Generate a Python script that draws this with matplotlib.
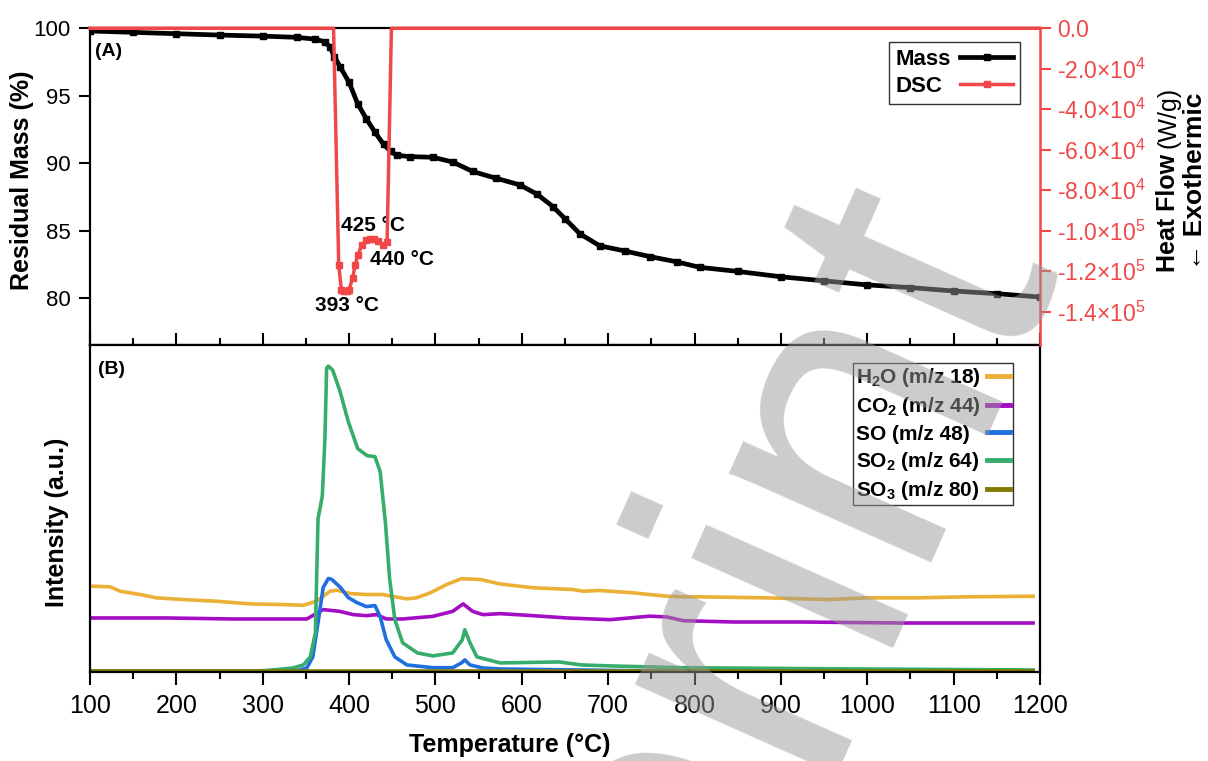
import matplotlib.pyplot as plt
from matplotlib.ticker import MultipleLocator
from matplotlib.transforms import Bbox

plt.rcParams['font.family'] = ['Liberation Sans', 'DejaVu Sans']
plt.rcParams['mathtext.fontset'] = 'custom'
plt.rcParams['mathtext.rm'] = 'Liberation Sans'
plt.rcParams['mathtext.default'] = 'regular'

# (A) TGA mass loss
mass_T = [100, 150, 200, 250, 300, 340, 360, 372, 378, 383, 390, 400, 410, 420,
          430, 440, 448, 455, 470, 497, 520, 543, 570, 598, 618, 636, 650, 667,
          690, 720, 748, 780, 806, 850, 900, 950, 1000, 1050, 1100, 1150, 1200]
mass = [99.8, 99.7, 99.6, 99.5, 99.42, 99.33, 99.2, 99.0, 98.6, 97.9, 97.1, 96.0,
        94.4, 93.3, 92.3, 91.4, 90.9, 90.6, 90.5, 90.45, 90.1, 89.4, 88.9, 88.4,
        87.7, 86.8, 85.9, 84.8, 83.9, 83.5, 83.1, 82.7, 82.3, 82.0, 81.6, 81.3,
        81.0, 80.8, 80.55, 80.35, 80.1]

# (A) DSC heat flow
dsc_T = [100, 382, 388, 391, 394, 397, 400, 404, 407, 410, 415, 420, 424, 429,
         434, 439, 444, 449, 1200]
dsc = [0, 0, -1.168e5, -1.29e5, -1.295e5, -1.295e5, -1.29e5, -1.235e5, -1.17e5,
       -1.12e5, -1.07e5, -1.045e5, -1.04e5, -1.042e5, -1.05e5, -1.068e5,
       -1.055e5, 0, 0]
dsc_ticks = [0, -2e4, -4e4, -6e4, -8e4, -1e5, -1.2e5, -1.4e5]
dsc_ticklabels = ['0.0', '-2.0×10$^{4}$', '-4.0×10$^{4}$', '-6.0×10$^{4}$',
                  '-8.0×10$^{4}$', '-1.0×10$^{5}$', '-1.2×10$^{5}$', '-1.4×10$^{5}$']

# (B) MS intensities (a.u.)
h2o_T = [100, 123, 135, 158, 177, 208, 247, 285, 324, 347, 362, 378, 386, 401,
         420, 439, 451, 467, 478, 494, 513, 530, 552, 575, 613, 659, 671, 690,
         729, 748, 768, 787, 806, 883, 957, 999, 1057, 1115, 1192]
h2o = [85.3, 84.7, 80.3, 77, 73.7, 72, 70.3, 67.7, 67, 66.3, 70.3, 80.3, 81.3, 78,
       77, 77, 75, 72.7, 73.7, 78.7, 87, 92.7, 92, 87.5, 83.7, 82, 80.3, 81,
       78.7, 77, 75.3, 74.7, 74.7, 73.7, 72, 73.7, 73.7, 74.7, 75.3]

co2_T = [100, 189, 266, 351, 370, 389, 405, 420, 432, 443, 462, 497, 520, 532,
         543, 555, 575, 613, 652, 702, 748, 768, 787, 845, 922, 1038, 1076, 1192]
co2 = [53.7, 53.7, 52.7, 52.7, 62, 60.3, 57, 56, 57, 52.7, 52.7, 55.3, 60.3, 67.7,
       60.3, 57, 58, 56, 53.7, 52, 55.5, 54.7, 51, 49.7, 49.7, 48.7, 48.7, 48.7]

so_T = [100, 330, 343, 351, 358, 364, 370, 376, 380, 390, 399, 409, 420, 430,
        436, 443, 453, 467, 497, 520, 530, 534, 540, 555, 575, 731, 900, 1192]
so = [0.5, 0.5, 2, 4, 15, 49, 84, 93, 92, 84, 74, 69, 65, 66, 55, 32, 15, 7, 4.3,
      4.3, 9, 12, 7, 4, 3, 1.3, 1, 1]

so2_T = [100, 290, 305, 335, 347, 355, 361, 364, 369, 372, 374, 376, 381, 389.5,
         399, 410, 421, 430, 436, 442, 447, 453, 462, 479, 497, 520, 531, 534,
         540, 548, 575, 643, 669, 705, 784, 941, 1192]
so2 = [1, 1, 1.5, 4, 7, 15, 39, 152, 175, 232, 302, 304, 300, 279, 249, 222, 215,
       214, 199, 149, 92, 52, 29, 19, 16, 19, 32, 42, 29, 15, 9, 10, 7, 6, 4.3,
       3.3, 2]

so3_T = [100, 1192]
so3 = [0.8, 0.8]

red = '#F04848'
fig = plt.figure(figsize=(12.08, 7.61), dpi=100)
W, H = 1208, 761


def box(x0, y0, x1, y1):
    return [x0 / W, 1 - y1 / H, (x1 - x0) / W, (y1 - y0) / H]


def ftext(x, y, s, **kw):
    return fig.text(x / W, 1 - y / H, s, **kw)


def left_align_labels(leg):
    # text left-aligned, handles in one column on the right
    renderer = fig.canvas.get_renderer()
    areas = []
    for col in leg._legend_handle_box.get_children():
        for row in col.get_children():
            areas.append(row.get_children()[0])
    wmax = max(a.get_bbox(renderer).width for a in areas)
    for a in areas:
        def gb(renderer, orig=a.get_bbox):
            bb = orig(renderer)
            return Bbox.from_bounds(bb.x0, bb.y0, wmax, bb.height)
        a.get_bbox = gb


ax1 = fig.add_axes(box(90, 28.3, 1040, 345))
ax3 = fig.add_axes(box(90, 345, 1040, 672), sharex=ax1)
ax2 = ax1.twinx()

l1, = ax1.plot(mass_T, mass, color='k', lw=3.4, marker='s', ms=4.5, label='Mass')
l2, = ax2.plot(dsc_T, dsc, color=red, lw=2.5, marker='s', ms=4,
               markevery=list(range(2, 17)), label='DSC', clip_on=False)

ax1.set_xlim(100, 1200)
ax1.set_ylim(76.55, 100)
ax1.set_yticks([80, 85, 90, 95, 100])
ax2.set_ylim(-1.564e5, 0)
ax2.set_yticks(dsc_ticks)
ax2.set_yticklabels(dsc_ticklabels)

for sp in ax1.spines.values():
    sp.set_linewidth(1.6)
ax1.spines['right'].set_visible(False)
for k in ['left', 'top', 'bottom']:
    ax2.spines[k].set_visible(False)
ax2.spines['right'].set_color(red)
ax2.spines['right'].set_linewidth(1.8)

ax1.xaxis.set_major_locator(MultipleLocator(100))
ax1.xaxis.set_minor_locator(MultipleLocator(50))
ax1.tick_params(axis='x', which='major', direction='in', length=9, width=1.5,
                labelbottom=False)
ax1.tick_params(axis='x', which='minor', direction='in', length=5, width=1.5)
ax1.tick_params(axis='y', direction='out', length=8, width=1.5, labelsize=16, pad=6)
ax2.tick_params(axis='y', direction='out', length=8, width=1.5, labelsize=16.5,
                colors=red, pad=4)

leg1 = ax1.legend(handles=[l1, l2], loc='upper right',
                  bbox_to_anchor=(0.979, 0.957), borderaxespad=0,
                  markerfirst=False, fancybox=False, framealpha=1,
                  edgecolor='#333333', handlelength=2.4, handletextpad=0.4,
                  labelspacing=0.3, borderpad=0.3,
                  prop={'weight': 'bold', 'size': 16})
leg1.get_frame().set_linewidth(1)
left_align_labels(leg1)

ax3.plot(h2o_T, h2o, color='#EBB035', lw=2.6, label='H$_2$O (m/z 18)')
ax3.plot(co2_T, co2, color='#A30DC4', lw=2.6, label='CO$_2$ (m/z 44)')
ax3.plot(so_T, so, color='#1F6FE0', lw=2.6, label='SO (m/z 48)')
ax3.plot(so2_T, so2, color='#36AD6A', lw=2.6, label='SO$_2$ (m/z 64)')
ax3.plot(so3_T, so3, color='#807A00', lw=2.6, label='SO$_3$ (m/z 80)')
ax3.set_ylim(0, 325)
ax3.set_yticks([])
for sp in ax3.spines.values():
    sp.set_linewidth(1.6)
ax3.tick_params(axis='x', which='major', direction='out', length=9, width=1.5,
                labelsize=18, pad=7)
ax3.tick_params(axis='x', which='minor', direction='out', length=5, width=1.5)
leg3 = ax3.legend(loc='upper right', bbox_to_anchor=(0.9716, 0.945),
                  borderaxespad=0, markerfirst=False, fancybox=False,
                  framealpha=1, edgecolor='#333333', handlelength=1.1,
                  handletextpad=0.3, labelspacing=0.3, borderpad=0.15,
                  prop={'weight': 'bold', 'size': 15})
leg3.get_frame().set_linewidth(1)
for lh in leg3.get_lines():
    lh.set_linewidth(3.5)
left_align_labels(leg3)

# labels and annotations
ftext(22, 180, 'Residual Mass (%)', rotation=90, ha='center', va='center',
      fontsize=18, fontweight='bold')
ftext(57, 522, 'Intensity (a.u.)', rotation=90, ha='center', va='center',
      fontsize=18, fontweight='bold')
ftext(510, 745, 'Temperature (°C)', ha='center', va='center', fontsize=18,
      fontweight='bold')
ftext(1168, 272, 'Heat Flow', rotation=90, ha='center', va='bottom',
      fontsize=18, fontweight='bold')
ftext(1168, 87, '(W/g)', rotation=90, ha='center', va='top', fontsize=18)
ftext(1195, 181, '← Exothermic', rotation=90, ha='center', va='center',
      fontsize=19, fontweight='bold')
ftext(95, 51, '(A)', ha='left', va='center', fontsize=14, fontweight='bold')
ftext(98, 370, '(B)', ha='left', va='center', fontsize=14, fontweight='bold')
ax1.text(397.6, 79.5, '393 °C', ha='center', va='center', fontsize=15,
         fontweight='bold')
ax1.text(427.7, 85.43, '425 °C', ha='center', va='center', fontsize=15,
         fontweight='bold')
ax1.text(461.3, 82.9, '440 °C', ha='center', va='center', fontsize=15,
         fontweight='bold')

# watermark
ftext(1042, 239, 'Preprint', rotation=66, rotation_mode='anchor', ha='right',
      va='baseline', fontsize=300, color=(0.6, 0.6, 0.6), alpha=0.5, zorder=10)

fig.savefig('out.png', dpi=100)
